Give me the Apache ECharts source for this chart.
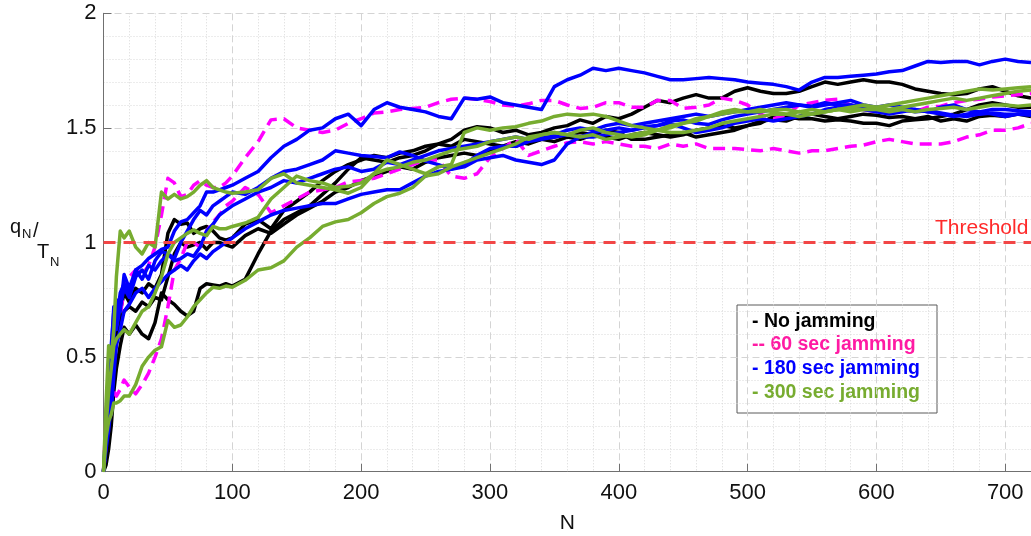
<!DOCTYPE html>
<html>
<head>
<meta charset="utf-8">
<script src="https://cdn.jsdelivr.net/npm/echarts@6/dist/echarts.min.js"></script>
<style>
html,body{margin:0;padding:0;background:#fff;}
#chart{width:1031px;height:536px;}
</style>
</head>
<body>
<div id="chart"></div>
<script>
// ---- DATA ----
const N = [0,2,4,6,8,10,13,16,20,25,30,35,40,45,50,55,60,65,70,75,80,85,90,95,100,
  110,120,130,140,150,160,170,180,190,200,
  210,220,230,240,250,260,270,280,290,300,
  310,320,330,340,350,360,370,380,390,400,
  410,420,430,440,450,460,470,480,490,500,
  510,520,530,540,550,560,570,580,590,600,
  610,620,630,640,650,660,670,680,690,700,
  710,720];

// No jamming (black)
const noJam1 = [0,0.08,0.3,0.45,0.55,0.62,0.7,0.78,0.74,0.8,0.78,0.82,0.8,0.86,1.04,1.10,1.08,1.085,1.04,1.06,1.07,1.05,1.02,1.01,1.02,
  1.08,1.10,1.06,1.14,1.18,1.22,1.27,1.31,1.34,1.36,
  1.38,1.37,1.39,1.40,1.42,1.43,1.45,1.49,1.505,1.50,
  1.48,1.49,1.47,1.48,1.50,1.51,1.535,1.52,1.55,1.54,
  1.56,1.59,1.62,1.61,1.63,1.645,1.63,1.63,1.66,1.675,
  1.66,1.65,1.65,1.66,1.68,1.70,1.69,1.70,1.71,1.70,
  1.70,1.69,1.67,1.66,1.65,1.645,1.65,1.67,1.68,1.66,
  1.64,1.63];
const noJam2 = [0,0.03,0.1,0.2,0.35,0.45,0.55,0.63,0.6,0.64,0.6,0.58,0.65,0.78,0.75,0.73,0.70,0.68,0.70,0.80,0.82,0.815,0.81,0.82,0.81,
  0.84,0.95,1.05,1.10,1.13,1.16,1.21,1.26,1.32,1.37,
  1.36,1.35,1.37,1.38,1.40,1.43,1.42,1.45,1.44,1.43,
  1.42,1.42,1.44,1.45,1.46,1.47,1.48,1.47,1.49,1.48,
  1.45,1.45,1.46,1.47,1.48,1.46,1.47,1.48,1.49,1.51,
  1.52,1.55,1.55,1.54,1.54,1.53,1.535,1.53,1.52,1.52,
  1.51,1.53,1.535,1.54,1.55,1.56,1.58,1.60,1.61,1.60,
  1.59,1.59];
const noJam3 = [0,0.05,0.2,0.4,0.5,0.6,0.66,0.7,0.72,0.7,0.74,0.72,0.76,0.75,0.85,0.95,1.0,0.98,0.99,1.0,0.97,1.0,1.0,0.99,0.98,
  1.03,1.06,1.04,1.08,1.12,1.15,1.18,1.22,1.24,1.27,
  1.29,1.31,1.33,1.32,1.35,1.37,1.38,1.39,1.38,1.40,
  1.42,1.44,1.43,1.45,1.44,1.46,1.45,1.47,1.46,1.45,
  1.47,1.48,1.47,1.46,1.47,1.49,1.50,1.51,1.50,1.51,
  1.53,1.535,1.53,1.55,1.56,1.55,1.54,1.55,1.56,1.555,
  1.545,1.55,1.54,1.55,1.53,1.54,1.53,1.55,1.555,1.55,
  1.56,1.55];

// 60 sec jamming (magenta, dashed)
const jam60_1 = [0,0.25,0.42,0.5,0.62,0.7,0.68,0.8,0.85,0.88,0.86,0.9,0.98,1.12,1.28,1.26,1.2,1.21,1.25,1.27,1.25,1.24,1.24,1.26,1.29,
  1.37,1.44,1.535,1.54,1.50,1.49,1.48,1.49,1.52,1.54,
  1.565,1.57,1.58,1.585,1.59,1.61,1.625,1.63,1.625,1.615,
  1.60,1.595,1.605,1.62,1.62,1.60,1.585,1.59,1.61,1.61,
  1.59,1.59,1.62,1.62,1.585,1.59,1.60,1.63,1.62,1.60,
  1.56,1.54,1.555,1.60,1.61,1.62,1.625,1.60,1.58,1.57,
  1.57,1.58,1.57,1.59,1.595,1.61,1.62,1.625,1.635,1.64,
  1.645,1.65];
const jam60_2 = [0,0.12,0.3,0.38,0.35,0.33,0.36,0.4,0.37,0.34,0.38,0.43,0.5,0.58,0.72,0.88,0.93,1.0,1.0,0.98,1.05,1.09,1.12,1.16,1.18,
  1.24,1.21,1.13,1.16,1.19,1.22,1.23,1.24,1.265,1.27,
  1.28,1.30,1.32,1.34,1.36,1.36,1.29,1.28,1.30,1.37,
  1.41,1.45,1.38,1.40,1.42,1.435,1.44,1.43,1.44,1.43,
  1.42,1.42,1.41,1.43,1.42,1.43,1.41,1.41,1.41,1.405,
  1.40,1.41,1.40,1.39,1.40,1.40,1.41,1.42,1.425,1.44,
  1.45,1.44,1.43,1.43,1.43,1.44,1.46,1.47,1.49,1.49,
  1.50,1.52];

// 180 sec jamming (blue)
const jam180_1 = [0,0.15,0.3,0.5,0.72,0.65,0.78,0.82,0.78,0.88,0.9,0.93,0.95,0.97,0.98,1.05,1.09,1.1,1.13,1.16,1.22,1.22,1.23,1.24,1.25,
  1.28,1.31,1.37,1.42,1.45,1.49,1.50,1.54,1.56,1.51,
  1.58,1.61,1.59,1.58,1.57,1.55,1.54,1.63,1.625,1.635,
  1.61,1.60,1.59,1.58,1.68,1.71,1.73,1.76,1.75,1.76,
  1.75,1.74,1.725,1.71,1.71,1.715,1.72,1.715,1.71,1.70,
  1.695,1.69,1.68,1.665,1.70,1.72,1.72,1.725,1.73,1.735,
  1.745,1.75,1.77,1.79,1.785,1.79,1.79,1.775,1.79,1.80,
  1.79,1.785];
const jam180_2 = [0,0.18,0.25,0.55,0.7,0.62,0.72,0.8,0.76,0.85,0.88,0.84,0.92,0.96,0.95,0.93,1.0,1.05,1.1,1.14,1.12,1.16,1.18,1.2,1.22,
  1.21,1.24,1.28,1.31,1.32,1.34,1.36,1.40,1.39,1.38,
  1.375,1.37,1.395,1.38,1.355,1.34,1.32,1.33,1.36,1.37,
  1.38,1.36,1.35,1.34,1.36,1.43,1.46,1.46,1.47,1.48,
  1.49,1.505,1.51,1.53,1.535,1.52,1.515,1.535,1.55,1.56,
  1.57,1.58,1.59,1.60,1.595,1.61,1.60,1.60,1.59,1.58,
  1.57,1.58,1.57,1.575,1.565,1.555,1.55,1.56,1.565,1.56,
  1.56,1.565];
const jam180_3 = [0,0.2,0.35,0.25,0.42,0.55,0.62,0.7,0.73,0.78,0.8,0.76,0.8,0.83,0.86,0.88,0.9,0.88,0.92,0.95,0.93,0.96,0.98,1.0,1.02,
  1.06,1.09,1.12,1.14,1.15,1.16,1.17,1.17,1.19,1.21,
  1.22,1.23,1.23,1.26,1.29,1.31,1.32,1.34,1.38,1.41,
  1.42,1.42,1.44,1.45,1.46,1.47,1.46,1.48,1.49,1.50,
  1.49,1.50,1.51,1.52,1.50,1.48,1.49,1.50,1.52,1.53,
  1.54,1.53,1.54,1.55,1.56,1.58,1.59,1.60,1.58,1.57,
  1.56,1.57,1.58,1.57,1.59,1.60,1.58,1.57,1.56,1.55,
  1.56,1.555];
const jam180_4 = [0,0.1,0.18,0.3,0.58,0.75,0.7,0.86,0.8,0.88,0.84,0.9,0.88,0.92,0.95,0.92,0.93,0.95,0.94,0.98,1.05,1.08,1.12,1.14,1.16,
  1.19,1.22,1.24,1.27,1.26,1.28,1.30,1.32,1.33,1.31,
  1.32,1.35,1.34,1.36,1.38,1.40,1.41,1.42,1.43,1.44,
  1.45,1.46,1.45,1.46,1.47,1.49,1.50,1.49,1.51,1.52,
  1.51,1.52,1.53,1.54,1.55,1.56,1.55,1.56,1.57,1.58,
  1.59,1.60,1.61,1.60,1.59,1.60,1.61,1.62,1.60,1.59,
  1.60,1.59,1.58,1.57,1.56,1.55,1.56,1.57,1.58,1.58,
  1.575,1.57];

// 300 sec jamming (green)
const jam300_1 = [0,0.3,0.55,0.5,0.62,0.85,1.05,1.02,1.05,0.98,0.95,1.0,0.98,1.22,1.19,1.21,1.19,1.2,1.22,1.25,1.27,1.24,1.23,1.22,1.215,
  1.22,1.23,1.28,1.30,1.26,1.25,1.24,1.23,1.215,1.24,
  1.30,1.36,1.34,1.32,1.30,1.33,1.34,1.48,1.50,1.49,
  1.50,1.505,1.52,1.53,1.55,1.56,1.555,1.56,1.55,1.53,
  1.51,1.50,1.49,1.48,1.48,1.49,1.50,1.52,1.53,1.54,
  1.55,1.56,1.56,1.57,1.58,1.57,1.58,1.585,1.58,1.58,
  1.57,1.58,1.57,1.58,1.585,1.59,1.58,1.59,1.60,1.60,
  1.595,1.60];
const jam300_2 = [0,0.15,0.22,0.25,0.3,0.3,0.31,0.33,0.33,0.38,0.46,0.5,0.53,0.545,0.66,0.63,0.64,0.675,0.72,0.75,0.78,0.805,0.80,0.81,0.805,
  0.835,0.88,0.89,0.92,0.98,1.02,1.07,1.09,1.10,1.13,
  1.17,1.20,1.215,1.24,1.29,1.30,1.33,1.35,1.37,1.39,
  1.41,1.43,1.46,1.47,1.48,1.47,1.46,1.47,1.45,1.46,
  1.47,1.48,1.49,1.51,1.52,1.53,1.55,1.56,1.57,1.57,
  1.58,1.57,1.56,1.55,1.56,1.57,1.58,1.57,1.58,1.59,
  1.60,1.61,1.62,1.63,1.64,1.65,1.66,1.67,1.665,1.67,
  1.675,1.68];
const jam300_3 = [0,0.2,0.35,0.45,0.55,0.58,0.6,0.62,0.6,0.65,0.7,0.72,0.78,0.85,0.95,1.0,1.02,1.04,1.055,1.04,1.03,1.07,1.06,1.06,1.07,
  1.085,1.11,1.19,1.24,1.29,1.27,1.26,1.24,1.245,1.26,
  1.30,1.32,1.33,1.35,1.36,1.38,1.40,1.41,1.42,1.44,
  1.45,1.46,1.45,1.47,1.48,1.47,1.49,1.50,1.48,1.47,
  1.46,1.47,1.49,1.50,1.52,1.54,1.55,1.57,1.58,1.57,
  1.57,1.58,1.58,1.57,1.56,1.57,1.58,1.59,1.60,1.59,
  1.58,1.59,1.60,1.61,1.62,1.63,1.62,1.63,1.64,1.65,
  1.66,1.665];

const thresholdN = [0, 720];
const thresholdValue = [1, 1];

const xTicks = [0,100,200,300,400,500,600,700];
const yTicks = [0,0.5,1,1.5,2];

const legendLabels = ['- No jamming','-- 60 sec jamming','- 180 sec jamming','- 300 sec jamming'];

// ---- CHART ----
const FONT = '"Liberation Sans", Arial, Helvetica, sans-serif';
const BLACK = '#000000', MAGENTA = '#ff00ff', BLUE = '#0000ff', GREEN = '#77ac30';
const legendColors = ['#000000', '#ff1aa3', '#0000ff', '#77ac30'];

function pairs(xs, ys){ return xs.map((x,i)=>[x, ys[i]]); }
function mkLine(vals, color, dashed){
  return {type:'line', data:pairs(N, vals), showSymbol:false, symbol:'none', silent:true,
    lineStyle:{color:color, width:3.5, type: dashed ? [12,7] : 'solid', cap:'butt', join:'round'},
    itemStyle:{color:color}, animation:false};
}

const series = [
  mkLine(noJam1, BLACK), mkLine(noJam2, BLACK), mkLine(noJam3, BLACK),
  mkLine(jam60_1, MAGENTA, true), mkLine(jam60_2, MAGENTA, true),
  mkLine(jam180_1, BLUE), mkLine(jam180_2, BLUE), mkLine(jam180_3, BLUE), mkLine(jam180_4, BLUE),
  mkLine(jam300_1, GREEN), mkLine(jam300_2, GREEN), mkLine(jam300_3, GREEN),
  {type:'line', data:pairs(thresholdN, thresholdValue), showSymbol:false, symbol:'none', silent:true, z:5,
   lineStyle:{color:'#f24646', width:3, type:[12,8]}}
];

const chart = echarts.init(document.getElementById('chart'), null, {renderer:'canvas'});
const legendGraphics = [{type:'rect', shape:{x:0, y:0, width:200, height:108},
  style:{fill:'#fff', stroke:'#5a5a5a', lineWidth:1}}];
legendLabels.forEach((t,i)=>{
  legendGraphics.push({type:'text', x:15, y:[17,40,64,88][i],
    style:{text:t, fill:legendColors[i], font:'bold 19.5px '+FONT, textAlign:'left', textVerticalAlign:'middle', verticalAlign:'middle'}});
});

chart.setOption({
  animation:false,
  backgroundColor:'#ffffff',
  grid:{left:103.5, right:0, top:13.3, bottom:64.3, containLabel:false, outerBoundsMode:'none'},
  xAxis:{type:'value', min:0, max:720, interval:100,
    axisLine:{show:true, onZero:false, lineStyle:{color:'#707070', width:1}},
    axisTick:{show:true, inside:true, length:8, lineStyle:{color:'#707070'}},
    axisLabel:{fontSize:22, color:'#111', margin:10, fontFamily:FONT,
      formatter:(v)=> xTicks.indexOf(v) >= 0 ? String(v) : ''},
    splitLine:{show:true, lineStyle:{color:'#d4d4d4', width:1, type:[7,4]}},
    minorTick:{show:false, splitNumber:5},
    minorSplitLine:{show:true, lineStyle:{color:'#d8d8d8', width:1, type:[1,2]}},
    name:'N', nameLocation:'middle', nameGap:41,
    nameTextStyle:{fontSize:21, color:'#111', fontFamily:FONT}
  },
  yAxis:{type:'value', min:0, max:2, interval:0.5,
    axisLine:{show:true, onZero:false, lineStyle:{color:'#707070', width:1}},
    axisTick:{show:true, inside:true, length:8, lineStyle:{color:'#707070'}},
    axisLabel:{fontSize:22, color:'#111', margin:7, fontFamily:FONT,
      formatter:(v)=> yTicks.indexOf(v) >= 0 ? String(v) : ''},
    splitLine:{show:true, lineStyle:{color:'#d4d4d4', width:1, type:[7,4]}},
    minorTick:{show:false, splitNumber:5},
    minorSplitLine:{show:true, lineStyle:{color:'#d8d8d8', width:1, type:[1,2]}}
  },
  series:series,
  graphic:[
    {type:'group', x:737, y:305, z:100, children:legendGraphics},
    {type:'text', x:935, y:228, z:100, style:{text:'Threshold', fill:'#ff2a2a', font:'21px '+FONT, textAlign:'left', textVerticalAlign:'middle', verticalAlign:'middle'}},
    {type:'text', x:10, y:227, z:100, style:{text:'q', fill:'#111', font:'20px '+FONT, textVerticalAlign:'middle', verticalAlign:'middle'}},
    {type:'text', x:22, y:234, z:100, style:{text:'N', fill:'#111', font:'13px '+FONT, textVerticalAlign:'middle', verticalAlign:'middle'}},
    {type:'text', x:33, y:231, z:100, style:{text:'/', fill:'#111', font:'20px '+FONT, textVerticalAlign:'middle', verticalAlign:'middle'}},
    {type:'text', x:37, y:252, z:100, style:{text:'T', fill:'#111', font:'20px '+FONT, textVerticalAlign:'middle', verticalAlign:'middle'}},
    {type:'text', x:50, y:262, z:100, style:{text:'N', fill:'#111', font:'13px '+FONT, textVerticalAlign:'middle', verticalAlign:'middle'}}
  ]
});
</script>
</body>
</html>
